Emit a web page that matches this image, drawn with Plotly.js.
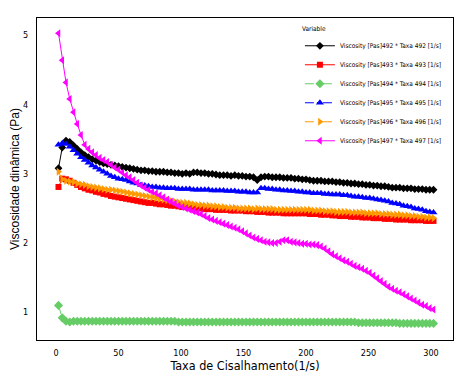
<!DOCTYPE html>
<html>
<head>
<meta charset="utf-8">
<script src="https://cdn.plot.ly/plotly-3.0.1.min.js"></script>
<style>html,body{margin:0;padding:0;background:#fff;}#chart{width:465px;height:387px;}</style>
</head>
<body>
<div id="chart"></div>
<script>
// Shear rate (1/s)
var shearRate = [2,5,8,11,14,17,20,23,26,29,
  32,35,38,41,44,47,50,53,56,59,
  62,65,68,71,74,77,80,83,86,89,
  92,95,98,101,104,107,110,113,116,119,
  122,125,128,131,134,137,140,143,146,149,
  152,155,158,161,164,167,170,173,176,179,
  182,185,188,191,194,197,200,203,206,209,
  212,215,218,221,224,227,230,233,236,239,
  242,245,248,251,254,257,260,263,266,269,
  272,275,278,281,284,287,290,293,296,299,
  302];

var seriesNames = [
  "Viscosity [Pas]492 * Taxa 492 [1/s]",
  "Viscosity [Pas]493 * Taxa 493 [1/s]",
  "Viscosity [Pas]494 * Taxa 494 [1/s]",
  "Viscosity [Pas]495 * Taxa 495 [1/s]",
  "Viscosity [Pas]496 * Taxa 496 [1/s]",
  "Viscosity [Pas]497 * Taxa 497 [1/s]"
];

var visc492 = [3.08,3.38,3.48,3.46,3.41,3.36,3.31,3.27,3.24,3.21,
  3.19,3.17,3.15,3.14,3.13,3.12,3.11,3.10,3.09,3.08,
  3.07,3.06,3.05,3.05,3.04,3.04,3.03,3.03,3.03,3.02,
  3.02,3.01,3.01,3.00,3.01,3.00,3.02,3.02,3.01,3.01,
  3.00,3.00,2.99,2.98,2.98,2.98,2.97,2.98,2.97,2.97,
  2.96,2.96,2.95,2.91,2.95,2.96,2.96,2.95,2.95,2.95,
  2.94,2.94,2.94,2.93,2.93,2.92,2.92,2.91,2.90,2.90,
  2.90,2.89,2.89,2.89,2.88,2.88,2.87,2.87,2.86,2.86,
  2.85,2.85,2.84,2.84,2.83,2.83,2.82,2.82,2.81,2.80,
  2.80,2.80,2.79,2.79,2.79,2.78,2.78,2.78,2.77,2.77,
  2.77];

var visc493 = [2.81,2.93,2.92,2.90,2.87,2.84,2.81,2.79,2.77,2.76,
  2.74,2.73,2.71,2.70,2.68,2.67,2.66,2.65,2.64,2.63,
  2.62,2.61,2.60,2.59,2.58,2.58,2.57,2.56,2.56,2.55,
  2.54,2.54,2.53,2.52,2.52,2.51,2.51,2.50,2.50,2.49,
  2.49,2.49,2.48,2.48,2.48,2.48,2.47,2.47,2.47,2.47,
  2.46,2.46,2.46,2.45,2.45,2.45,2.44,2.44,2.44,2.44,
  2.43,2.43,2.43,2.43,2.43,2.43,2.43,2.42,2.42,2.42,
  2.41,2.41,2.41,2.40,2.40,2.39,2.39,2.39,2.38,2.38,
  2.38,2.37,2.37,2.37,2.36,2.36,2.36,2.35,2.35,2.35,
  2.34,2.34,2.34,2.34,2.33,2.33,2.33,2.33,2.32,2.32,
  2.32];

var visc494 = [1.10,0.92,0.87,0.86,0.87,0.87,0.87,0.87,0.87,0.87,
  0.87,0.87,0.87,0.87,0.87,0.87,0.87,0.87,0.87,0.87,
  0.87,0.87,0.87,0.87,0.87,0.87,0.87,0.87,0.87,0.87,
  0.87,0.87,0.86,0.86,0.86,0.86,0.86,0.86,0.86,0.86,
  0.86,0.86,0.86,0.86,0.86,0.86,0.86,0.86,0.86,0.86,
  0.86,0.86,0.86,0.86,0.86,0.86,0.86,0.86,0.86,0.86,
  0.86,0.86,0.86,0.86,0.86,0.86,0.86,0.86,0.86,0.86,
  0.86,0.86,0.86,0.86,0.86,0.86,0.86,0.86,0.86,0.86,
  0.85,0.85,0.85,0.85,0.85,0.85,0.85,0.85,0.85,0.85,
  0.85,0.84,0.84,0.84,0.84,0.84,0.84,0.84,0.84,0.84,
  0.84];

var visc495 = [3.42,3.44,3.43,3.39,3.34,3.29,3.24,3.20,3.16,3.12,
  3.09,3.06,3.03,3.00,2.97,2.95,2.93,2.92,2.91,2.89,
  2.87,2.86,2.84,2.83,2.82,2.81,2.81,2.80,2.80,2.79,
  2.79,2.79,2.78,2.78,2.78,2.78,2.77,2.77,2.77,2.77,
  2.77,2.76,2.76,2.76,2.76,2.75,2.75,2.75,2.74,2.74,
  2.74,2.73,2.73,2.73,2.79,2.79,2.78,2.78,2.77,2.77,
  2.76,2.76,2.75,2.75,2.74,2.74,2.73,2.73,2.72,2.72,
  2.72,2.71,2.71,2.70,2.70,2.70,2.69,2.69,2.68,2.67,
  2.67,2.66,2.65,2.65,2.64,2.63,2.62,2.61,2.60,2.58,
  2.57,2.56,2.54,2.53,2.52,2.50,2.49,2.48,2.46,2.45,
  2.44];

var visc496 = [3.03,2.92,2.90,2.89,2.88,2.86,2.85,2.84,2.82,2.81,
  2.80,2.79,2.78,2.77,2.77,2.76,2.75,2.74,2.73,2.72,
  2.71,2.70,2.69,2.68,2.67,2.66,2.65,2.64,2.63,2.62,
  2.61,2.60,2.59,2.58,2.58,2.57,2.56,2.55,2.55,2.54,
  2.54,2.53,2.53,2.52,2.52,2.51,2.51,2.51,2.50,2.50,
  2.50,2.50,2.49,2.50,2.49,2.49,2.49,2.49,2.48,2.48,
  2.48,2.48,2.48,2.48,2.48,2.48,2.48,2.48,2.47,2.47,
  2.47,2.46,2.46,2.46,2.45,2.45,2.45,2.45,2.44,2.44,
  2.44,2.44,2.43,2.43,2.43,2.43,2.42,2.42,2.42,2.41,
  2.41,2.41,2.40,2.40,2.39,2.39,2.38,2.38,2.37,2.37,
  2.36];

var visc497 = [5.03,4.64,4.32,4.08,3.89,3.72,3.56,3.42,3.36,3.31,
  3.27,3.23,3.20,3.17,3.13,3.09,3.06,3.02,2.98,2.95,
  2.91,2.87,2.83,2.80,2.77,2.74,2.72,2.69,2.66,2.63,
  2.60,2.57,2.54,2.52,2.50,2.48,2.46,2.44,2.42,2.39,
  2.36,2.34,2.32,2.30,2.28,2.26,2.24,2.22,2.20,2.17,
  2.14,2.11,2.08,2.06,2.04,2.02,2.01,2.00,2.00,2.02,
  2.04,2.04,2.02,2.01,2.00,1.99,1.99,1.98,1.98,1.97,
  1.95,1.92,1.88,1.84,1.81,1.78,1.75,1.73,1.70,1.67,
  1.65,1.63,1.60,1.57,1.53,1.49,1.45,1.41,1.37,1.34,
  1.31,1.29,1.26,1.23,1.20,1.17,1.14,1.11,1.09,1.06,
  1.04];

var xTickVals = [0,50,100,150,200,250,300];
var yTickVals = [1,2,3,4,5];

var styles = [
  {color:"#000000", symbol:"diamond", size:6, dash:"solid"},
  {color:"#ff0000", symbol:"square", size:6, dash:"solid"},
  {color:"#66cc66", symbol:"diamond", size:7, dash:"dash"},
  {color:"#0000ff", symbol:"triangle-up", size:7, dash:"dashdot"},
  {color:"#ff9900", symbol:"triangle-right", size:7, dash:"dash"},
  {color:"#ff00ff", symbol:"triangle-left", size:7, dash:"solid"}
];
var allY = [visc492, visc493, visc494, visc495, visc496, visc497];

var traces = allY.map(function(yv, i){
  var s = styles[i];
  return {
    type:"scatter", mode:"lines+markers",
    x: shearRate, y: yv, name: seriesNames[i],
    line:{color:s.color, width:1, dash:s.dash},
    marker:{color:s.color, symbol:s.symbol, size:s.size, line:{width:0}}
  };
});

var narrow = "Liberation Sans Narrow, DejaVu Sans Condensed, Arial Narrow, sans-serif";

var layout = {
  width:465, height:387,
  margin:{l:37, r:12, t:18, b:47, pad:0},
  paper_bgcolor:"#fff", plot_bgcolor:"#fff",
  showlegend:true,
  font:{family:narrow, color:"#000", size:9},
  xaxis:{
    range:[-15.2, 317.6], tickvals:xTickVals, ticks:"", showgrid:false, zeroline:false,
    showline:true, mirror:true, linecolor:"#000", linewidth:1,
    tickfont:{family:narrow, size:9, color:"#000"}, ticklabelstandoff:4,
    title:{text:"Taxa de Cisalhamento(1/s)", font:{family:narrow, size:12.5, color:"#000"}, standoff:4},
    automargin:false
  },
  yaxis:{
    range:[0.6, 5.25], tickvals:yTickVals, ticks:"", showgrid:false, zeroline:false,
    showline:true, mirror:true, linecolor:"#000", linewidth:1,
    tickfont:{family:narrow, size:9, color:"#000"}, ticklabelstandoff:6,
    title:{text:"Viscosidade dinâmica (Pa)", font:{family:"Liberation Sans, Arial, sans-serif", size:12, color:"#000"}, standoff:0},
    automargin:false
  },
  legend:{
    x:0.632, y:0.985, xanchor:"left", yanchor:"top",
    bgcolor:"rgba(255,255,255,0)", borderwidth:0,
    font:{family:narrow, size:6.5, color:"#000"},
    title:{text:"Variable", font:{family:narrow, size:6.5, color:"#000"}},
    tracegroupgap:0, itemwidth:30
  }
};

Plotly.newPlot("chart", traces, layout, {displayModeBar:false, staticPlot:true});
</script>
</body>
</html>
